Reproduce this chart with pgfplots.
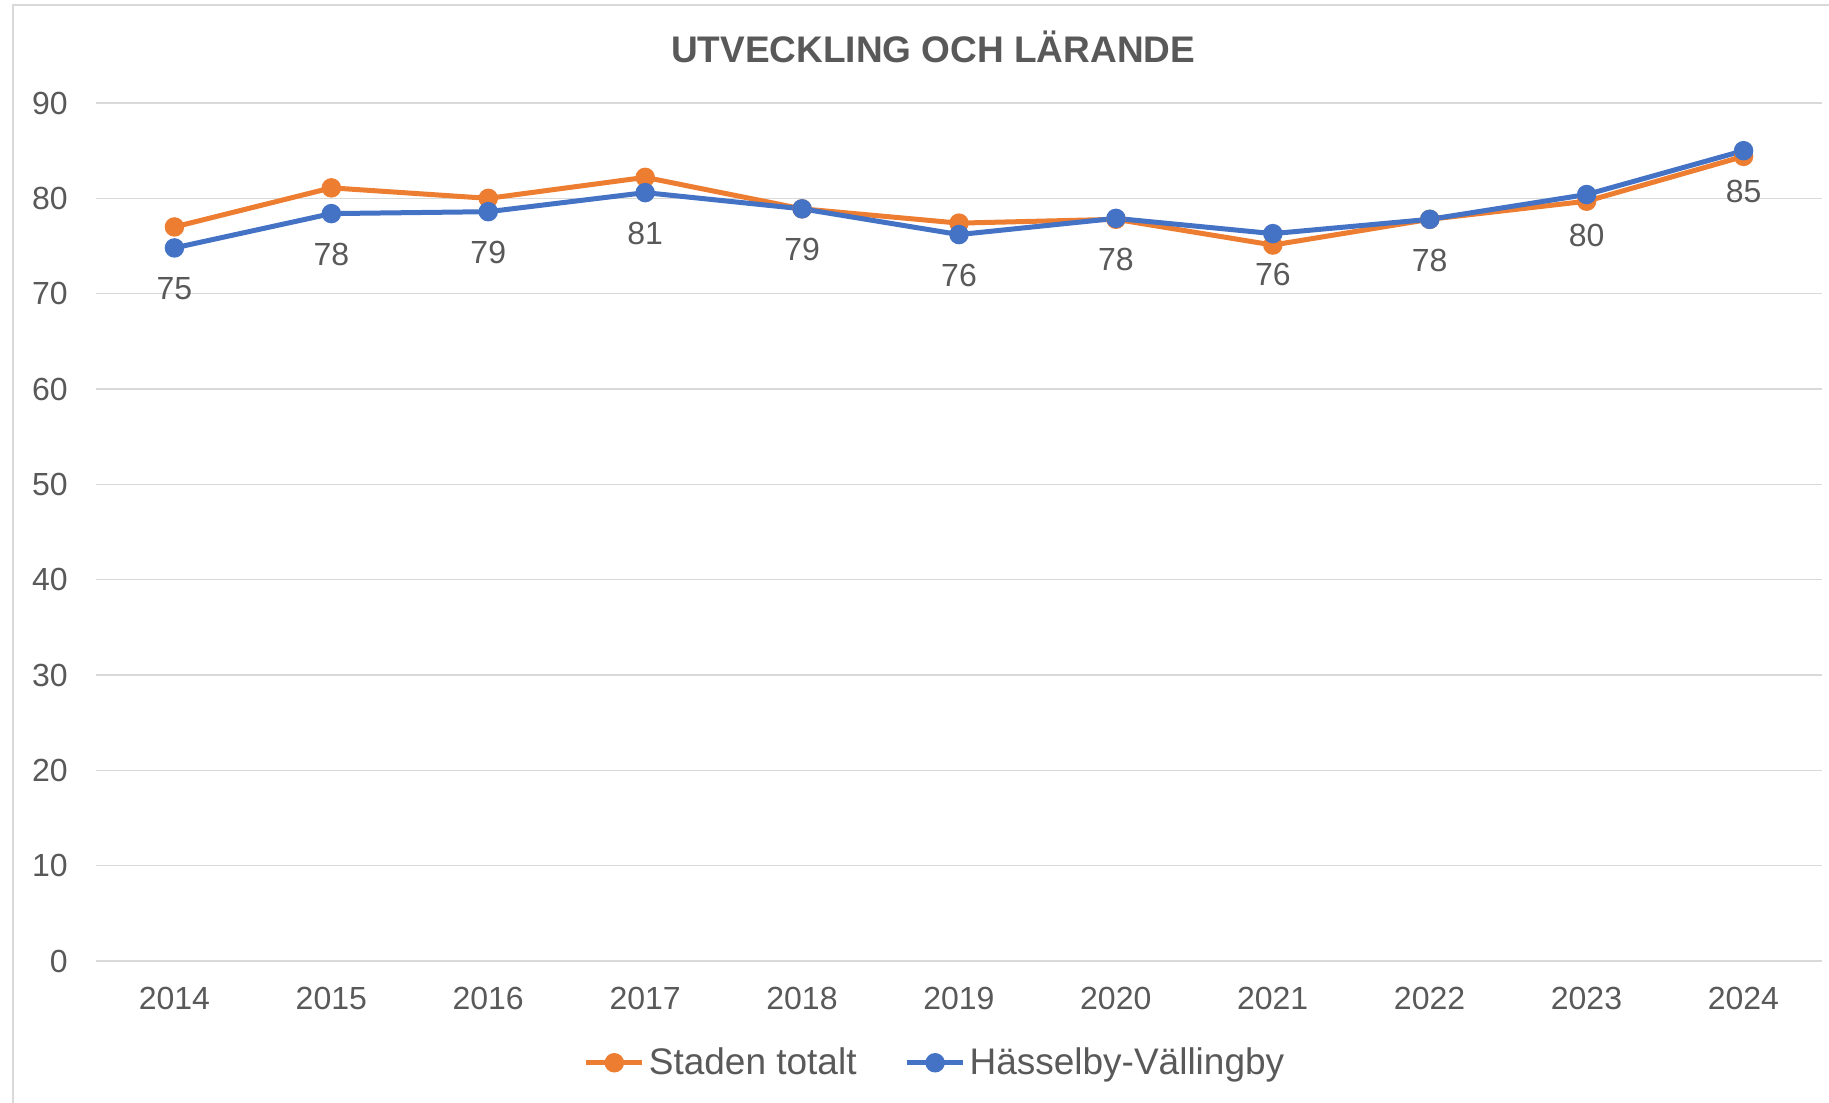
\documentclass[border=0pt]{standalone}
\usepackage{pgfplots}
\pgfplotsset{compat=1.18}
\usepackage{fontspec}
\setmainfont{Liberation Sans}
\definecolor{corange}{HTML}{ED7D31}
\definecolor{cblue}{HTML}{4472C4}
\definecolor{ctext}{HTML}{595959}
\definecolor{cgrid}{HTML}{D9D9D9}
\begin{document}
\begin{tikzpicture}
\path[use as bounding box] (0pt,0pt) rectangle (914.5pt,551pt);
\draw[cgrid, line width=0.9pt] (6.5pt,-2pt) -- (6.5pt,548.5pt) -- (920pt,548.5pt);
\begin{axis}[
  at={(48pt,70.5pt)}, anchor=south west,
  scale only axis, width=863pt, height=429pt,
  xmin=2013.5, xmax=2024.5, ymin=0, ymax=90,
  xtick={2014,...,2024}, ytick={0,10,...,90},
  /pgf/number format/assume math mode=true,
  /pgf/number format/1000 sep={},
  major tick length=0pt,
  axis line style={draw=none},
  ymajorgrids, grid style={cgrid, line width=0.8pt},
  tick label style={font=\fontsize{16}{19}\selectfont, text=ctext},
  yticklabel style={anchor=east, inner sep=0pt, xshift=-14pt},
  xticklabel style={anchor=center, inner sep=0pt, yshift=-18.5pt},
  clip=false,
  legend columns=2,
  legend style={draw=none, fill=none, at={(axis description cs:0.4867,-0.1186)}, anchor=center,
    font=\fontsize{18.5}{22}\selectfont, text=ctext,
    /tikz/every even column/.append style={column sep=22pt}},
  legend image code/.code={\draw[mark repeat=2,mark phase=2,#1] plot coordinates {(0pt,0pt) (14pt,0pt) (28pt,0pt)};},
]
\addplot[corange, line width=2.5pt, mark=*, mark size=3.6pt, mark options={solid}] coordinates {
 (2014,77.0) (2015,81.1) (2016,80.0) (2017,82.2) (2018,78.9) (2019,77.4)
 (2020,77.8) (2021,75.1) (2022,77.8) (2023,79.7) (2024,84.4)};
\addlegendentry{Staden totalt}
\addplot[cblue, line width=2.5pt, mark=*, mark size=3.6pt, mark options={solid},
  nodes near coords={\pgfmathprintnumber[fixed,precision=0]{\pgfplotspointmeta}},
  every node near coord/.append style={anchor=center, yshift=-20.5pt, text=ctext, font=\fontsize{16}{19}\selectfont}] coordinates {
 (2014,74.8) (2015,78.4) (2016,78.6) (2017,80.6) (2018,78.9) (2019,76.2)
 (2020,77.9) (2021,76.3) (2022,77.8) (2023,80.4) (2024,85.0)};
\addlegendentry{Hässelby-Vällingby}
\end{axis}
\node[text=ctext, font=\bfseries\fontsize{18.5}{22}\selectfont] at (466.6pt,527.7pt) {UTVECKLING OCH LÄRANDE};
\end{tikzpicture}
\end{document}
